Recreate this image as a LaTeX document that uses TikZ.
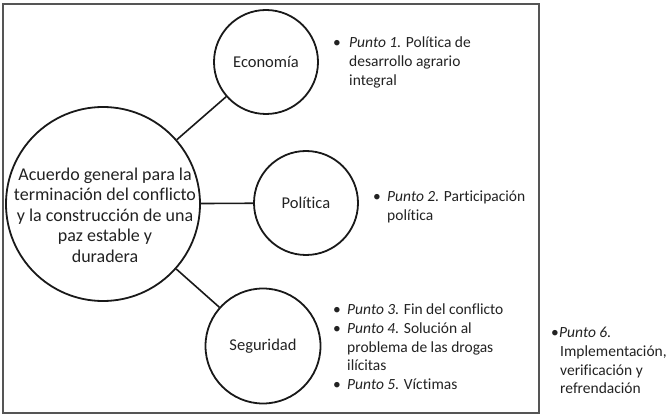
\documentclass[tikz,border=0pt]{standalone}
\usepackage{fontspec}
\setmainfont[Ligatures=NoCommon]{Carlito}
\definecolor{ink}{HTML}{222222}
\definecolor{framec}{HTML}{555555}
\begin{document}
\begin{tikzpicture}[x=1pt,y=-1pt,
  circ/.style={circle,draw=black!90,line width=1.8pt,inner sep=0pt,text=ink,font=\fontsize{16.5}{20}\selectfont},
  link/.style={draw=black!90,line width=1.6pt},
  bigtxt/.style={align=center,inner sep=0pt,text=ink,font=\fontsize{18}{20.5}\selectfont},
  side/.style={anchor=base west,inner sep=0pt,text=ink,font=\fontsize{15.5}{19}\selectfont},
  bul/.style={anchor=base,inner sep=0pt,text=ink,font=\fontsize{15.5}{19}\selectfont}]
\useasboundingbox (0,0) rectangle (667,414);
\node[draw=framec,line width=2pt,inner sep=0pt,minimum width=536pt,minimum height=409pt,anchor=north west] (frame) at (2,3) {};

% circles
\node[circ,minimum size=194pt] (acuerdo) at (103,204) {};
\node[bigtxt] (acuerdotxt) at (105,215) {Acuerdo general para la\\terminación del conflicto\\y la construcción de una\\paz estable y\\duradera};
\node[circ,minimum size=104pt] (economia) at (266,62) {Economía};
\node[circ,minimum size=104pt] (politica) at (306,203) {Política};
\node[circ,minimum size=115pt] (seguridad) at (263,346) {Seguridad};

\draw[link] (acuerdo) -- (economia);
\draw[link] (acuerdo) -- (politica);
\draw[link] (acuerdo) -- (seguridad);

% Punto 1
\node[bul] (b1) at (337,48) {•};
\node[side] (p1a) at (349,48) {\textit{Punto 1.} Política de};
\node[side] (p1b) at (349,67) {desarrollo agrario};
\node[side] (p1c) at (349,86) {integral};

% Punto 2
\node[bul] (b2) at (377,201.5) {•};
\node[side] (p2a) at (387,201.5) {\textit{Punto 2.} Participación};
\node[side] (p2b) at (387,221) {política};

% Punto 3-5
\node[bul] (b3) at (337,314) {•};
\node[side] (p3a) at (347,314) {\textit{Punto 3.} Fin del conflicto};
\node[bul] (b4) at (337,333) {•};
\node[side] (p4a) at (347,333) {\textit{Punto 4.} Solución al};
\node[side] (p4b) at (347,352) {problema de las drogas};
\node[side] (p4c) at (347,370) {ilícitas};
\node[bul] (b5) at (337,389) {•};
\node[side] (p5a) at (347,389) {\textit{Punto 5.} Víctimas};

% Punto 6
\node[bul] (b6) at (555,337) {•};
\node[side] (p6a) at (559,337) {\textit{Punto 6.}};
\node[side] (p6b) at (560,356.5) {Implementación,};
\node[side] (p6c) at (560,375) {verificación y};
\node[side] (p6d) at (560,393.5) {refrendación};
\end{tikzpicture}
\end{document}
